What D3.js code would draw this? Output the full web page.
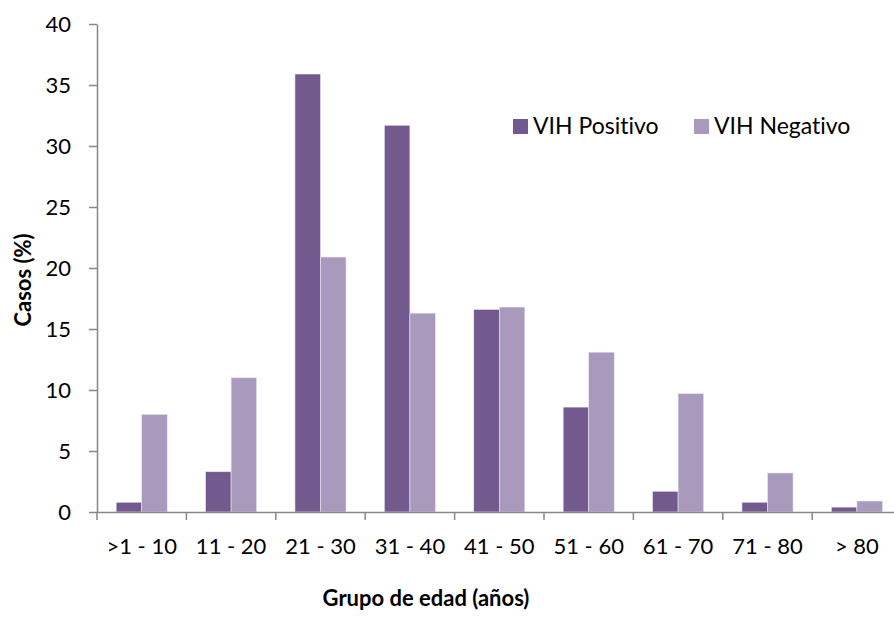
<!DOCTYPE html>
<html>
<head>
<meta charset="utf-8">
<script src="https://cdn.jsdelivr.net/npm/d3@7"></script>
<style>
  html, body { margin: 0; padding: 0; background: #fff; }
  svg { display: block; font-family: Lato, "Open Sans", sans-serif; font-variant-ligatures: none; }
</style>
</head>
<body>
<svg id="chart" width="894" height="619"></svg>
<script>
// Age groups and share of cases (%) per HIV status
const categories = [">1 - 10", "11 - 20", "21 - 30", "31 - 40", "41 - 50", "51 - 60", "61 - 70", "71 - 80", "> 80"];
const seriesNames = ["VIH Positivo", "VIH Negativo"];
const positivo = [0.8, 3.3, 35.9, 31.7, 16.6, 8.6, 1.7, 0.8, 0.4];
const negativo = [8.0, 11.0, 20.9, 16.3, 16.8, 13.1, 9.7, 3.2, 0.9];
const yTicks = [0, 5, 10, 15, 20, 25, 30, 35, 40];

const colors = { "VIH Positivo": "#725a8f", "VIH Negativo": "#a99abd" };
const axisColor = "#878787";

const svg = d3.select("#chart");
const plotLeft = 97, plotRight = 901.6, plotTop = 24, plotBottom = 512;

const x = d3.scaleBand().domain(categories).range([plotLeft, plotRight]).padding(0);
const x1 = d3.scaleBand().domain(seriesNames).range([0, x.bandwidth()]).paddingInner(0).paddingOuter(0.75);
const y = d3.scaleLinear().domain([0, 40]).range([plotBottom, plotTop]);

const rows = categories.map((c, i) => ({ cat: c, values: [
  { key: "VIH Positivo", v: positivo[i] },
  { key: "VIH Negativo", v: negativo[i] }
]}));

// Bars
const groups = svg.append("g").selectAll("g").data(rows).join("g")
  .attr("transform", d => `translate(${x(d.cat)},0)`);
groups.selectAll("rect").data(d => d.values).join("rect")
  .attr("x", d => x1(d.key))
  .attr("width", x1.bandwidth())
  .attr("y", d => y(d.v))
  .attr("height", d => y(0) - y(d.v))
  .attr("fill", d => colors[d.key])
  .attr("stroke", "#ece6f2")
  .attr("stroke-width", 0.6);

// Y axis
const yAxis = svg.append("g").attr("transform", `translate(${plotLeft},0)`)
  .call(d3.axisLeft(y).tickValues(yTicks).tickSize(8).tickSizeOuter(0).tickPadding(18));
yAxis.select(".domain").attr("stroke", axisColor).attr("stroke-width", 1.5);
yAxis.selectAll(".tick line").attr("stroke", axisColor).attr("stroke-width", 1.5);
yAxis.selectAll(".tick text").attr("fill", "#000").attr("font-size", 22)
  .attr("font-family", "Lato, sans-serif").attr("dy", "0.34em");

// X axis baseline with ticks at category boundaries
const xAxis = svg.append("g").attr("transform", `translate(0,${plotBottom})`)
  .call(d3.axisBottom(x).tickSize(0).tickPadding(26));
xAxis.select(".domain").attr("stroke", axisColor).attr("stroke-width", 1.5);
xAxis.selectAll(".tick text").attr("fill", "#000").attr("font-size", 22)
  .attr("font-family", "Lato, sans-serif");
const bounds = categories.map(c => x(c)).concat([x.range()[1]]);
xAxis.selectAll("line.bound").data(bounds).join("line")
  .attr("class", "bound")
  .attr("x1", d => d).attr("x2", d => d)
  .attr("y1", 0).attr("y2", 8)
  .attr("stroke", axisColor).attr("stroke-width", 1.5);

// Axis titles
svg.append("text")
  .attr("transform", `translate(31,${(plotTop + plotBottom) / 2 + 12}) rotate(-90)`)
  .attr("text-anchor", "middle")
  .attr("font-weight", "bold").attr("font-size", 22)
  .text("Casos (%)");
svg.append("text")
  .attr("x", 426).attr("y", 606)
  .attr("text-anchor", "middle")
  .attr("font-weight", "bold").attr("font-size", 22)
  .text("Grupo de edad (años)");

// Legend
const legendX = [513, 694];
const legend = svg.append("g").selectAll("g").data(seriesNames).join("g")
  .attr("transform", (d, i) => `translate(${legendX[i]},119)`);
legend.append("rect").attr("width", 15).attr("height", 15).attr("fill", d => colors[d]);
legend.append("text").attr("x", 20).attr("y", 14.5)
  .attr("font-size", 23).attr("fill", "#000").text(d => d);
</script>
</body>
</html>
